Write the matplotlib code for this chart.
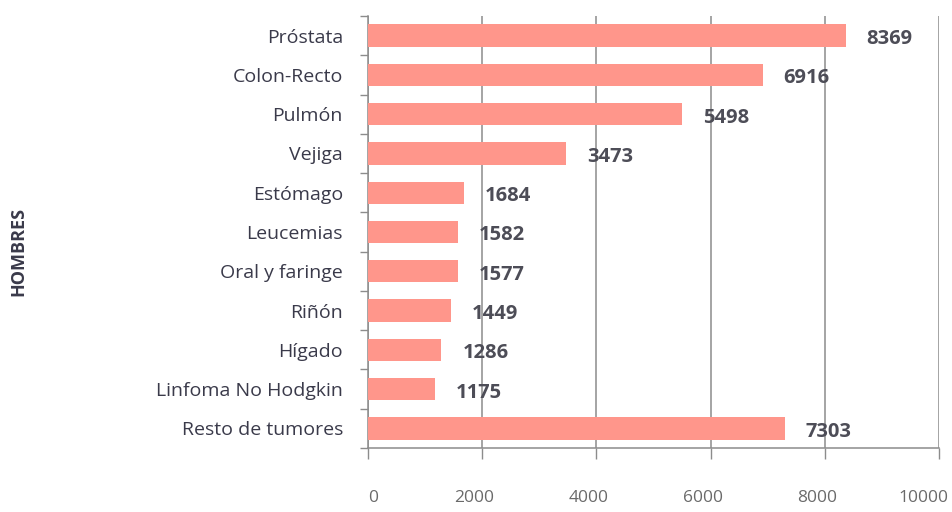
import matplotlib
matplotlib.use("Agg")
import matplotlib.pyplot as plt
import matplotlib.transforms as mtransforms
import numpy as np

categories = ["Próstata", "Colon-Recto", "Pulmón", "Vejiga", "Estómago", "Leucemias",
              "Oral y faringe", "Riñón", "Hígado", "Linfoma No Hodgkin", "Resto de tumores"]
values = [8369, 6916, 5498, 3473, 1684, 1582, 1577, 1449, 1286, 1175, 7303]
xticks = [0, 2000, 4000, 6000, 8000, 10000]

plt.rcParams['font.family'] = ['Open Sans', 'DejaVu Sans']

fig = plt.figure(figsize=(9.52, 5.12), dpi=100)
ax = fig.add_axes([368/952, 1-448/512, (939-368)/952, (448-16)/512])

n = len(categories)
y = np.arange(n)
bar_color = "#FF968B"
ax.barh(y, values, height=0.57, color=bar_color, zorder=3)
ax.set_ylim(n - 0.5, -0.5)
ax.set_xlim(0, 10000)

grid_color = "#8c8c8c"
ax.set_xticks(xticks)
ax.set_xticklabels([str(t) for t in xticks], color="#6a6a6a", fontsize=12.5)
ax.tick_params(axis='x', length=8, width=1, color=grid_color, pad=22)
ax.xaxis.grid(True, color=grid_color, linewidth=1.1, zorder=0)
ax.set_axisbelow(True)
for lbl, t in zip(ax.get_xticklabels(), xticks):
    dx = 5 if t == 0 else (-16 if t == 10000 else -8)
    lbl.set_transform(lbl.get_transform() + mtransforms.ScaledTranslation(dx/100, 0, fig.dpi_scale_trans))

ax.set_yticks(y)
ax.set_yticklabels(categories, fontsize=14, color="#3a3a4a")
ax.tick_params(axis='y', length=0, pad=18)
ax.set_yticks(np.arange(n + 1) - 0.5, minor=True)
ax.tick_params(axis='y', which='minor', length=6, width=1, color=grid_color)

for s in ["top", "right"]:
    ax.spines[s].set_visible(False)
for s in ["left", "bottom"]:
    ax.spines[s].set_color(grid_color)
    ax.spines[s].set_linewidth(1.1)

for yi, v in zip(y, values):
    ax.annotate(str(v), xy=(v, yi), xytext=(15, -2.5), textcoords="offset points",
                ha="left", va="center", fontsize=14.5, fontweight="bold", color="#4d4d57")

fig.text(18/952, 1-251/512, "HOMBRES", rotation=90, ha="center", va="center",
         fontsize=13, fontweight="bold", color="#3a3a4a")

fig.savefig("out.png", dpi=100)
